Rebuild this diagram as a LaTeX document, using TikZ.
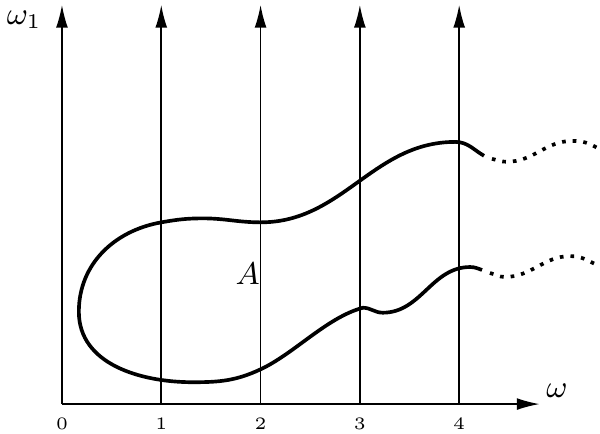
\documentclass[tikz,border=0pt]{standalone}
\usepackage{amsmath}
\usetikzlibrary{arrows.meta}

\begin{document}
\begin{tikzpicture}[
    axis/.style={-{Latex[length=2.3mm, width=1.2mm]}, line width=0.45pt},
    blob/.style={line width=1.05pt},
    tail/.style={line width=1.05pt, dotted},
    tick/.style={font=\tiny, inner sep=1pt},
    lbl/.style={font=\small, inner sep=1pt},
]
\useasboundingbox (-0.624,-0.292) rectangle (5.418,4.069);
% Axes
\coordinate (o) at (0,0);
\coordinate (xend) at (4.81,0);
\draw[axis] (o) -- (xend);
\foreach \i in {0,...,4} {
  \coordinate (b\i) at (\i,0);
  \coordinate (t\i) at (\i,4.02);
  \draw[axis] (b\i) -- (t\i);
  \node[tick] (n\i) at (\i,-0.2) {\i};
}

% Labels
\node[lbl] (w1) at (-0.38,3.87) {$\omega_1$};
\node[lbl] (w) at (4.985,0.13) {$\omega$};
\node[lbl] (A) at (1.87,1.31) {$A$};

% Region A
\draw[blob] (4.25,2.50) to[out=150,in=0] (3.96,2.64)
  to[out=180,in=0] (2.00,1.83)
  to[out=180,in=0] (1.42,1.87)
  to[out=180,in=10] (1.00,1.83)
  to[out=190,in=90] (0.17,0.93)
  to[out=270,in=180] (1.32,0.22)
  to[out=0,in=205] (2.00,0.35)
  to[out=25,in=195,looseness=0.8] (3.03,0.97)
  to[out=0,in=180] (3.23,0.92)
  to[out=0,in=180] (4.11,1.38)
  to[out=0,in=160] (4.23,1.35);

% Tails (dotted)
\draw[tail] (4.33,2.47) to[out=-15,in=180] (4.48,2.44)
  to[out=0,in=180] (5.14,2.65) to[out=0,in=150] (5.39,2.58);
\draw[tail] (4.31,1.32) to[out=-15,in=180] (4.46,1.28)
  to[out=0,in=180] (5.12,1.49) to[out=0,in=155] (5.39,1.40);
\end{tikzpicture}
\end{document}
